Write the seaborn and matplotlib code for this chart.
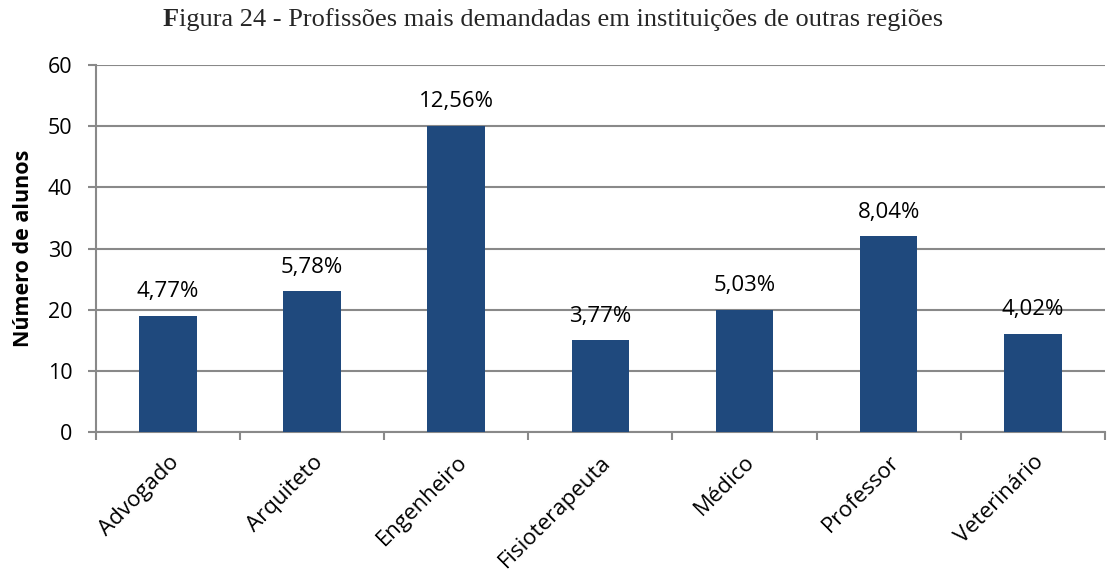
import matplotlib
matplotlib.use("Agg")
import matplotlib.pyplot as plt
import seaborn as sns
import pandas as pd
from matplotlib.ticker import FixedLocator

categories = ["Advogado", "Arquiteto", "Engenheiro", "Fisioterapeuta", "Médico", "Professor", "Veterinário"]
values = [19, 23, 50, 15, 20, 32, 16]
pct_labels = ["4,77%", "5,78%", "12,56%", "3,77%", "5,03%", "8,04%", "4,02%"]
y_ticks = [0, 10, 20, 30, 40, 50, 60]

sns.set_theme(style="white")
plt.rcParams['font.family'] = ['Open Sans', 'DejaVu Sans']

df = pd.DataFrame({"cat": categories, "val": values})

fig = plt.figure(figsize=(11.16, 5.73), dpi=100)
ax = fig.add_axes([0.086, 0.246, 0.904, 0.6406])

sns.barplot(data=df, x="cat", y="val", color="#1F497D", saturation=1, width=0.4,
            linewidth=0, ax=ax, zorder=3)

ax.set_ylim(0, 60)
ax.set_xlim(-0.5, len(categories) - 0.5)
ax.set_yticks(y_ticks)
ax.yaxis.grid(True, color="#898989", linewidth=1.5, zorder=0)
ax.set_axisbelow(True)

for s in ["top", "right"]:
    ax.spines[s].set_visible(False)
for s in ["left", "bottom"]:
    ax.spines[s].set_color("#898989")
    ax.spines[s].set_linewidth(1.5)

ax.tick_params(axis="y", which="major", length=6, width=1.5, color="#898989", pad=11,
               labelsize=15.5, left=True, labelcolor="black")
ax.tick_params(axis="x", which="major", length=0, pad=14, labelsize=16, labelcolor="black")
ax.xaxis.set_minor_locator(FixedLocator([i - 0.5 for i in range(len(categories) + 1)]))
ax.tick_params(axis="x", which="minor", length=6, width=1.5, color="#898989", bottom=True, direction="out")

ax.set_xticks(range(len(categories)))
ax.set_xticklabels(categories, rotation=45, ha="right", rotation_mode="anchor")
ax.set_xlabel("")
ax.set_ylabel("Número de alunos", fontsize=15.5, fontweight="bold", labelpad=10, color="black")

for i, (v, lab) in enumerate(zip(values, pct_labels)):
    ax.annotate(lab, (i, v), xytext=(0, 13.5), textcoords="offset points",
                ha="center", va="baseline", fontsize=16, color="black")

# title: bold F followed by regular text
x0 = 0.146
ty = 0.954
tF = fig.text(x0, ty, "F", fontsize=19, family="Liberation Serif", fontweight="bold", va="baseline")
fig.canvas.draw()
bb = tF.get_window_extent()
x1 = fig.transFigure.inverted().transform((bb.x1, bb.y0))[0]
fig.text(x1, ty, "igura 24 - Profissões mais demandadas em instituições de outras regiões",
         fontsize=19, family="Liberation Serif", va="baseline")

fig.savefig("out.png", dpi=100)
